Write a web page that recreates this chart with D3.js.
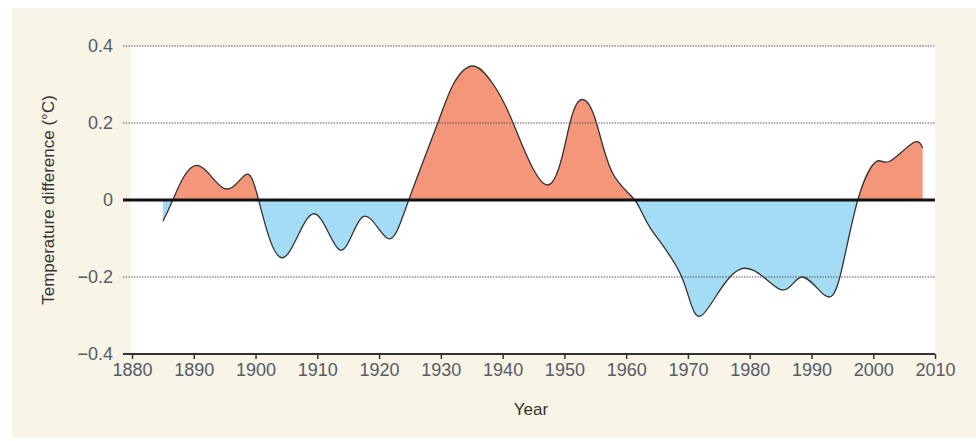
<!DOCTYPE html>
<html>
<head>
<meta charset="utf-8">
<script src="https://cdn.jsdelivr.net/npm/d3@7"></script>
<style>
  body { margin: 0; background: #ffffff; }
  svg { display: block; font-family: "Liberation Sans", Arial, sans-serif; }
</style>
</head>
<body>
<div id="chart-area"></div>
<script>
// Datos
const years = [1885, 1886.6, 1890.4, 1894.9, 1898.3, 1900.5, 1904.4, 1909.3, 1913.7, 1917.4,
  1921.4, 1924.8, 1929.5, 1932, 1935.2, 1938.5, 1941.7, 1947.3, 1950.9, 1953.2, 1955.2, 1957.8,
  1961.4, 1964, 1969, 1972.2, 1978.4, 1984.9, 1988.4, 1992.1, 1994.6, 1997.5, 2000.5, 2002.6,
  2006.4, 2008];
const anomaly = [-0.055, 0, 0.09, 0.03, 0.065, 0, -0.15, -0.036, -0.13, -0.043,
  -0.10, 0, 0.2, 0.3, 0.348, 0.3, 0.2, 0.039, 0.2, 0.26, 0.2, 0.07,
  0, -0.075, -0.2, -0.30, -0.18, -0.232, -0.2, -0.247, -0.2, 0, 0.10, 0.10,
  0.148, 0.135];
const xTicks = [1880, 1890, 1900, 1910, 1920, 1930, 1940, 1950, 1960, 1970, 1980, 1990, 2000, 2010];
const yTicks = [-0.4, -0.2, 0, 0.2, 0.4];
const gridValues = [0.4, 0.2, -0.2];

const data = years.map((d, i) => ({ year: d, value: anomaly[i] }));

const width = 976;
const height = 441;
const plot = { left: 132, right: 935, top: 46, bottom: 354 };

const svg = d3.select("#chart-area")
  .append("svg")
  .attr("width", width)
  .attr("height", height);

// Fondo beige
svg.append("rect")
  .attr("x", 12).attr("y", 8)
  .attr("width", width - 12).attr("height", 430)
  .attr("fill", "#f8f4e6");

// Escalas
const x = d3.scaleLinear().domain([1880, 2010]).range([plot.left, plot.right]);
const y = d3.scaleLinear().domain([-0.4, 0.4]).range([plot.bottom, plot.top]);

// Área blanca
svg.append("rect")
  .attr("x", x(1880) - 1).attr("y", y(0.4))
  .attr("width", x(2010) - x(1880) + 1).attr("height", y(-0.4) - y(0.4))
  .attr("fill", "#ffffff");

// Clips para positivo / negativo
const defs = svg.append("defs");
defs.append("clipPath").attr("id", "clip-pos")
  .append("rect")
  .attr("x", 0).attr("y", 0)
  .attr("width", width).attr("height", y(0));
defs.append("clipPath").attr("id", "clip-neg")
  .append("rect")
  .attr("x", 0).attr("y", y(0))
  .attr("width", width).attr("height", height - y(0));

const curve = d3.curveNatural;

const area = d3.area()
  .x(d => x(d.year))
  .y0(y(0))
  .y1(d => y(d.value))
  .curve(curve);

const line = d3.line()
  .x(d => x(d.year))
  .y(d => y(d.value))
  .curve(curve);

svg.append("path")
  .datum(data)
  .attr("d", area)
  .attr("fill", "#f4967a")
  .attr("clip-path", "url(#clip-pos)");

svg.append("path")
  .datum(data)
  .attr("d", area)
  .attr("fill", "#a4dcf6")
  .attr("clip-path", "url(#clip-neg)");

svg.append("path")
  .datum(data)
  .attr("d", line)
  .attr("fill", "none")
  .attr("stroke", "#333333")
  .attr("stroke-width", 1.3);

// Líneas de cuadrícula punteadas
svg.selectAll("line.grid")
  .data(gridValues)
  .enter()
  .append("line")
  .attr("class", "grid")
  .attr("x1", plot.left - 9)
  .attr("x2", plot.right)
  .attr("y1", d => y(d))
  .attr("y2", d => y(d))
  .attr("stroke", "#555555")
  .attr("stroke-width", 1.2)
  .attr("stroke-dasharray", "1.5,1.2");

// Línea del cero
svg.append("line")
  .attr("x1", plot.left - 9).attr("x2", plot.right)
  .attr("y1", y(0)).attr("y2", y(0))
  .attr("stroke", "#111111")
  .attr("stroke-width", 3);

// Eje X
const bottomAxis = d3.axisBottom(x)
  .tickValues(xTicks)
  .tickFormat(d3.format("d"))
  .tickSize(5)
  .tickSizeOuter(0);
const gx = svg.append("g")
  .attr("transform", `translate(0, ${y(-0.4)})`)
  .call(bottomAxis);
gx.select(".domain")
  .attr("d", `M${plot.left - 9},0H${plot.right}`)
  .attr("stroke", "#333333")
  .attr("stroke-width", 2);
gx.selectAll(".tick line").attr("stroke", "#333333").attr("stroke-width", 1.5);
gx.selectAll(".tick text")
  .attr("font-size", "18px")
  .attr("fill", "#555a68")
  .attr("dy", "0.72em")
  .attr("y", 9)
  .style("font-family", "Liberation Sans, Arial, sans-serif");

// Eje Y (solo etiquetas)
const leftAxis = d3.axisLeft(y)
  .tickValues(yTicks)
  .tickFormat(d => d === 0 ? "0" : d3.format(".1f")(d).replace("-", "\u2013"))
  .tickSize(0);
const gy = svg.append("g")
  .attr("transform", `translate(${plot.left - 19}, 0)`)
  .call(leftAxis);
gy.select(".domain").remove();
gy.selectAll(".tick text")
  .attr("font-size", "18px")
  .attr("fill", "#555a68")
  .attr("x", 0)
  .style("font-family", "Liberation Sans, Arial, sans-serif");

// Etiquetas de ejes
svg.append("text")
  .attr("x", 531)
  .attr("y", 415)
  .attr("text-anchor", "middle")
  .attr("font-size", "17px")
  .attr("fill", "#333333")
  .text("Year");

svg.append("text")
  .attr("transform", "rotate(-90)")
  .attr("x", -200)
  .attr("y", 54)
  .attr("text-anchor", "middle")
  .attr("font-size", "17px")
  .attr("fill", "#333333")
  .text("Temperature difference (\u00B0C)");
</script>
</body>
</html>
